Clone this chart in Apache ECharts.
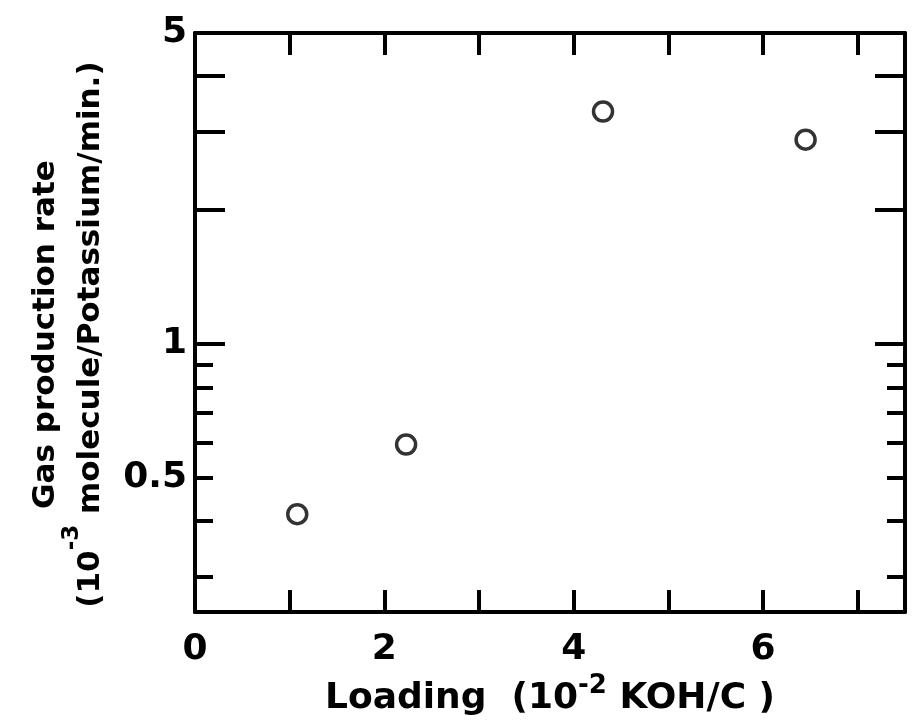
<!DOCTYPE html>
<html><head><meta charset="utf-8">
<script src="https://cdn.jsdelivr.net/npm/echarts@6/dist/echarts.min.js"></script>
<style>html,body{margin:0;padding:0;background:#fff}#c{width:916px;height:722px}</style>
</head><body><div id="c"></div>
<script>
// Data
const loading = [1.08, 2.23, 4.31, 6.45];          // 10^-2 KOH/C
const gasRate = [0.415, 0.595, 3.33, 2.88];        // 10^-3 molecule/Potassium/min.
const xLabelValues = [0, 2, 4, 6];
const xTickValues = [1, 2, 3, 4, 5, 6, 7];
const yLabelValues = [0.5, 1, 5];
const yMajorTicks = [1, 2, 3, 4];
const yMinorTicks = [0.3, 0.4, 0.5, 0.6, 0.7, 0.8, 0.9];

const FONT = 'DejaVu Sans';
const black = '#000';
const lineStyle = { color: black, width: 4 };

function xAx(pos, withLabels) {
  const a = {
    type: 'value', min: 0, max: 7.5, position: pos,
    axisLine: { show: true, onZero: false, lineStyle },
    axisTick: { show: true, inside: true, length: 22, customValues: xTickValues, lineStyle: { color: black, width: 4 } },
    splitLine: { show: false },
    axisLabel: { show: withLabels, customValues: xLabelValues, fontFamily: FONT, fontWeight: 'bold', fontSize: 36, color: black, margin: 20 }
  };
  if (withLabels) {
    a.name = '{a|Loading  (10}{s|-2}{a| KOH/C )}';
    a.nameLocation = 'middle';
    a.nameGap = 50;
    a.nameTextStyle = {
      rich: {
        a: { fontFamily: FONT, fontWeight: 'bold', fontSize: 36, color: black, lineHeight: 44, verticalAlign: 'bottom' },
        s: { fontFamily: FONT, fontWeight: 'bold', fontSize: 26, color: black, lineHeight: 44, verticalAlign: 'top' }
      }
    };
  }
  return a;
}

function yAx(pos, ticks, len, withLabels, showLine) {
  const a = {
    type: 'log', min: 0.25, max: 5, position: pos, offset: 0,
    axisLine: { show: showLine, lineStyle },
    axisTick: { show: true, inside: true, length: len, customValues: ticks, lineStyle: { color: black, width: 4 } },
    minorTick: { show: false },
    splitLine: { show: false },
    axisLabel: { show: withLabels, customValues: yLabelValues, fontFamily: FONT, fontWeight: 'bold', fontSize: 36, color: black, margin: 8 }
  };
  if (withLabels) {
    a.name = '{b|Gas production rate}\n{b|(10}{s|-3}{b| molecule/Potassium/min.)}';
    a.nameLocation = 'middle';
    a.nameRotate = 90;
    a.nameGap = 89;
    a.nameTextStyle = {
      padding: [0, 24, 0, 0],
      rich: {
        b: { fontFamily: FONT, fontWeight: 'bold', fontSize: 31, color: black, lineHeight: 45, verticalAlign: 'bottom' },
        s: { fontFamily: FONT, fontWeight: 'bold', fontSize: 23, color: black, lineHeight: 45, verticalAlign: 'top' }
      }
    };
  }
  return a;
}

const chart = echarts.init(document.getElementById('c'), null, { renderer: 'canvas' });
chart.setOption({
  animation: false,
  backgroundColor: '#fff',
  grid: { left: 195, right: 11, top: 33, bottom: 109, containLabel: false },
  xAxis: [xAx('bottom', true), xAx('top', false)],
  yAxis: [
    yAx('left', yMinorTicks, 18, true, true),
    yAx('left', yMajorTicks, 30, false, false),
    yAx('right', yMinorTicks, 18, false, true),
    yAx('right', yMajorTicks, 30, false, false)
  ],
  series: [{
    type: 'scatter',
    xAxisIndex: 0, yAxisIndex: 0,
    data: loading.map((x, i) => [x, gasRate[i]]),
    symbol: 'circle', symbolSize: 19,
    itemStyle: { color: '#fff', borderColor: black, borderWidth: 3.5 }
  }]
});
</script>
</body></html>
